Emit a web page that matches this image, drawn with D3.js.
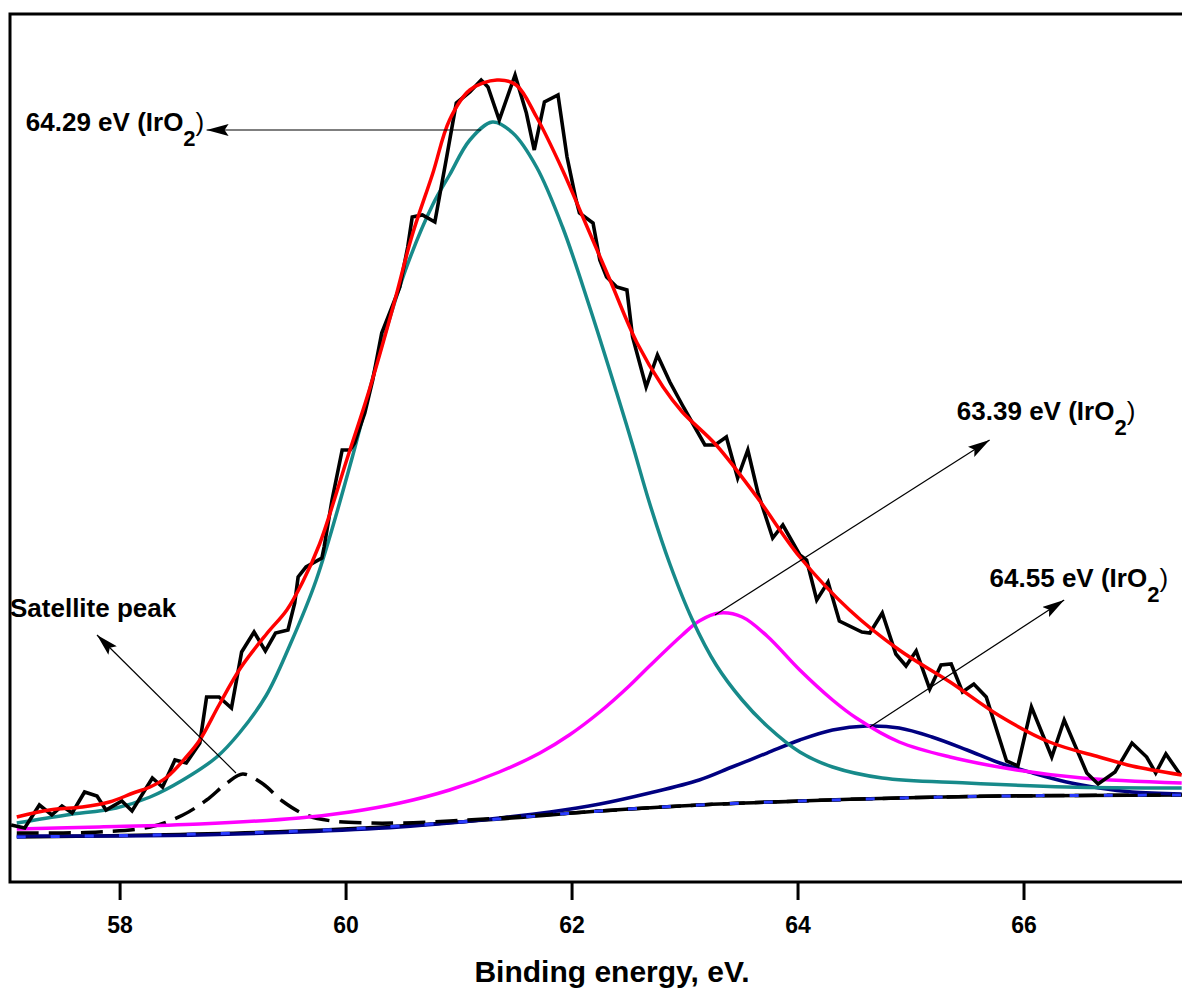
<!DOCTYPE html>
<html>
<head>
<meta charset="utf-8">
<script src="https://cdn.jsdelivr.net/npm/d3@7"></script>
<style>
  body { margin: 0; background: #fff; }
  text { font-family: "Liberation Sans", Arial, sans-serif; font-weight: bold; fill: #000; }
</style>
</head>
<body>
<svg id="chart" width="1182" height="994"></svg>
<script>
// Ir 4f-like XPS spectrum: binding energy (eV) vs intensity (a.u.)
const xTicks = [58, 60, 62, 64, 66];

// raw (measured) spectrum
const rawData = [
  [57.04, 57], [57.16, 54], [57.29, 77], [57.40, 67], [57.49, 76], [57.58, 69],
  [57.69, 90], [57.80, 86], [57.88, 72], [58.02, 81], [58.11, 71], [58.29, 104],
  [58.38, 95], [58.49, 122], [58.59, 119], [58.71, 139], [58.77, 185], [58.88, 185],
  [58.99, 174], [59.08, 230], [59.19, 250], [59.29, 231], [59.38, 249], [59.49, 252],
  [59.55, 279], [59.58, 305], [59.65, 315], [59.79, 324], [59.81, 335], [59.88, 382],
  [59.97, 432], [60.04, 432], [60.08, 439], [60.17, 469], [60.24, 502], [60.32, 549],
  [60.39, 569], [60.48, 595], [60.55, 635], [60.59, 665], [60.68, 667], [60.79, 660],
  [60.89, 722], [60.98, 779], [61.10, 790], [61.20, 802], [61.26, 795], [61.36, 762],
  [61.50, 807], [61.60, 769], [61.67, 732], [61.76, 780], [61.88, 787], [61.96, 725],
  [62.04, 682], [62.07, 669], [62.19, 659], [62.25, 622], [62.31, 605], [62.40, 595],
  [62.49, 592], [62.54, 545], [62.66, 495], [62.76, 527], [62.87, 500], [62.98, 477],
  [63.07, 459], [63.18, 437], [63.27, 437], [63.37, 445], [63.47, 404], [63.56, 432],
  [63.65, 389], [63.78, 344], [63.87, 357], [64.02, 327], [64.08, 322], [64.17, 282],
  [64.27, 300], [64.37, 261], [64.57, 250], [64.64, 249], [64.75, 269], [64.87, 228],
  [64.96, 216], [65.05, 231], [65.17, 193], [65.27, 217], [65.36, 218], [65.46, 190],
  [65.56, 198], [65.67, 185], [65.85, 121], [65.95, 116], [66.07, 175], [66.25, 125],
  [66.36, 162], [66.56, 109], [66.66, 98], [66.81, 110], [66.96, 139], [67.09, 125],
  [67.17, 109], [67.26, 128], [67.39, 107]
];

// fitted envelope (red)
const envelope = [
  [57.09, 65], [57.38, 72], [57.67, 75], [57.91, 80], [58.12, 89], [58.27, 95],
  [58.42, 105], [58.59, 125], [58.71, 142], [58.88, 177], [59.07, 214], [59.30, 248],
  [59.48, 272], [59.62, 300], [59.77, 338], [60.01, 422], [60.21, 492], [60.42, 575],
  [60.59, 647], [60.77, 708], [60.92, 762], [61.10, 792], [61.34, 802], [61.51, 797],
  [61.69, 765], [61.92, 712], [62.10, 665], [62.34, 602], [62.58, 539], [62.81, 495],
  [62.98, 470], [63.28, 437], [63.64, 385], [64.02, 325], [64.46, 272], [64.90, 232],
  [65.35, 200], [65.79, 166], [66.23, 140], [66.67, 125], [66.96, 116], [67.40, 107]
];

// component labelled 64.29 eV (teal)
const peakMain = [
  [57.09, 59], [57.53, 67], [57.97, 74], [58.27, 85], [58.56, 102], [58.86, 125],
  [59.06, 149], [59.30, 187], [59.50, 235], [59.74, 302], [60.06, 425],
  [60.30, 529], [60.54, 615], [60.77, 677], [60.92, 707], [61.10, 742], [61.30, 760],
  [61.48, 749], [61.69, 715], [61.92, 655], [62.16, 575], [62.40, 489], [62.54, 437],
  [62.69, 379], [62.87, 318], [63.07, 262], [63.28, 217], [63.51, 182], [63.73, 156],
  [64.02, 130], [64.31, 115], [64.75, 104], [65.50, 99], [66.38, 95], [67.40, 94]
];

// component 63.39 eV (magenta)
const peakMid = [
  [57.09, 53], [57.82, 55], [58.71, 58], [59.59, 64], [60.04, 70], [60.48, 79],
  [60.92, 92], [61.36, 110], [61.72, 129], [61.98, 147], [62.25, 170], [62.51, 196],
  [62.69, 216], [62.98, 247], [63.13, 261], [63.31, 269], [63.51, 265], [63.73, 246],
  [64.02, 212], [64.31, 182], [64.52, 164], [64.90, 140], [65.35, 125], [65.94, 112],
  [66.52, 104], [67.40, 99]
];

// component 64.55 eV (navy)
const peakHigh = [
  [57.09, 46], [57.82, 46], [58.71, 47], [59.59, 50], [60.48, 55], [60.92, 59],
  [61.36, 64], [61.81, 70], [62.25, 78], [62.69, 89], [63.13, 102], [63.42, 115],
  [63.73, 129], [64.02, 142], [64.31, 152], [64.61, 156], [64.90, 154], [65.19, 145],
  [65.50, 132], [65.79, 119], [66.08, 109], [66.38, 100], [66.67, 94], [66.96, 90],
  [67.40, 88]
];

// satellite (dashed black)
const satellite = [
  [57.09, 49], [57.82, 50], [58.27, 55], [58.56, 67], [58.77, 82], [58.95, 99],
  [59.09, 108], [59.27, 98], [59.44, 81], [59.65, 67], [59.88, 61], [60.19, 59],
  [60.48, 59], [60.92, 61], [61.36, 64], [62.25, 71], [63.13, 77], [64.02, 81],
  [64.90, 84], [65.79, 86], [67.40, 87]
];

// background
const background = [
  [57.09, 45], [58.27, 47], [59.59, 51], [60.48, 56], [61.36, 63], [62.25, 71],
  [63.13, 77], [64.02, 81], [64.90, 84], [65.79, 86], [67.40, 87]
];

// annotations: label, text anchor point, arrow start, arrow end
const labels = [
  { main: "64.29 eV (IrO", sub: "2", tail: ")", at: [57.17, 751], from: [61.20, 752], to: [58.77, 752] },
  { main: "63.39 eV (IrO", sub: "2", tail: ")", at: [65.41, 462], from: [63.27, 267], to: [65.70, 442] },
  { main: "64.55 eV (IrO", sub: "2", tail: ")", at: [65.70, 295], from: [64.64, 155], to: [66.36, 282] },
  { main: "Satellite peak", sub: "", tail: "", at: [57.03, 265], from: [59.03, 109], to: [57.80, 247] }
];

const svg = d3.select("#chart");

const x = d3.scaleLinear().domain([57.03, 67.5]).range([10, 1193]);
const y = d3.scaleLinear().domain([0, 868]).range([882, 14]);

svg.append("defs").append("clipPath").attr("id", "plot")
  .append("rect").attr("x", 10).attr("y", 14).attr("width", 1183).attr("height", 868);

svg.select("defs").append("marker")
  .attr("id", "arrow")
  .attr("markerUnits", "userSpaceOnUse")
  .attr("markerWidth", 24).attr("markerHeight", 12)
  .attr("refX", 22).attr("refY", 6)
  .attr("orient", "auto")
  .append("path").attr("d", "M0,0 L22,6 L0,12 L4,6 Z").attr("fill", "#000");

const smooth = d3.line().x((d) => x(d[0])).y((d) => y(d[1])).curve(d3.curveCatmullRom.alpha(0.5));
const straight = d3.line().x((d) => x(d[0])).y((d) => y(d[1]));

const plot = svg.append("g").attr("clip-path", "url(#plot)");

// background line (black, blue dashes added further down)
plot.append("path").attr("d", smooth(background))
  .attr("fill", "none").attr("stroke", "#000").attr("stroke-width", 3.5);

plot.append("path").attr("d", smooth(peakHigh))
  .attr("fill", "none").attr("stroke", "#000080").attr("stroke-width", 3.5);

plot.append("path").attr("d", smooth(satellite))
  .attr("fill", "none").attr("stroke", "#000").attr("stroke-width", 3.5)
  .attr("stroke-dasharray", "22 10");

plot.append("path").attr("d", smooth(background))
  .attr("fill", "none").attr("stroke", "#2a3cff").attr("stroke-width", 3)
  .attr("stroke-dasharray", "9 25");

plot.append("path").attr("d", smooth(peakMid))
  .attr("fill", "none").attr("stroke", "#ff00ff").attr("stroke-width", 3.5);

plot.append("path").attr("d", smooth(peakMain))
  .attr("fill", "none").attr("stroke", "#178a8a").attr("stroke-width", 3.5);

plot.append("path").attr("d", straight(rawData))
  .attr("fill", "none").attr("stroke", "#000").attr("stroke-width", 3.6)
  .attr("stroke-linejoin", "miter");

plot.append("path").attr("d", smooth(envelope))
  .attr("fill", "none").attr("stroke", "#ff0000").attr("stroke-width", 3.5);

// frame (right side runs off the picture)
svg.append("rect")
  .attr("x", 10).attr("y", 14).attr("width", 1183).attr("height", 868)
  .attr("fill", "none").attr("stroke", "#000").attr("stroke-width", 3);

const xAxis = d3.axisBottom(x).tickValues(xTicks).tickSize(18).tickPadding(17)
  .tickFormat(d3.format("d"));
const gx = svg.append("g").attr("transform", "translate(0,882)").call(xAxis);
gx.select(".domain").remove();
gx.selectAll(".tick line").attr("stroke", "#000").attr("stroke-width", 3);
gx.selectAll(".tick text").attr("font-size", 23).attr("font-family", null);

svg.append("text")
  .attr("x", 612).attr("y", 982)
  .attr("text-anchor", "middle")
  .attr("font-size", 30)
  .text("Binding energy, eV.");

// annotations
labels.forEach((d) => {
  svg.append("line")
    .attr("x1", x(d.from[0])).attr("y1", y(d.from[1]))
    .attr("x2", x(d.to[0])).attr("y2", y(d.to[1]))
    .attr("stroke", "#000").attr("stroke-width", 1.2)
    .attr("marker-end", "url(#arrow)");
  const t = svg.append("text")
    .attr("x", x(d.at[0])).attr("y", y(d.at[1]))
    .attr("font-size", 26);
  t.append("tspan").text(d.main);
  if (d.sub) {
    t.append("tspan").attr("dy", 15).attr("font-size", 22).text(d.sub);
    t.append("tspan").attr("dy", -15).attr("font-weight", "normal").text(d.tail);
  }
});
</script>
</body>
</html>
